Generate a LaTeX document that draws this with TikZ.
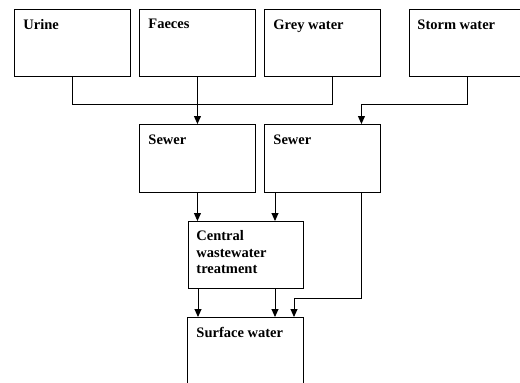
\documentclass[tikz,border=0pt]{standalone}
\usepackage{fontspec}
\setmainfont{Liberation Serif}
\usetikzlibrary{arrows.meta}
\begin{document}
\begin{tikzpicture}[x=1pt, y=-1pt,
                    line width=.9pt,
                    box/.style={draw, rectangle, anchor=north west, inner sep=0pt,
                                minimum width=116pt, minimum height=67pt},
                    boxtitle/.style={anchor=north west, inner sep=0pt, align=left,
                                     font=\fontsize{14.5}{16.5}\selectfont\bfseries},
                    arr/.style={-{Triangle[length=8pt, width=7pt]}}]
          \useasboundingbox (0,0) rectangle (520,383);
          \clip (0,0) rectangle (520,383);
          \node[box] (urine) at (14,9) {};
          \node[box] (faeces) at (139,9) {};
          \node[box] (grey_water) at (264,9) {};
          \node[box] (storm_water) at (409,9) {};
          \node[box, minimum height=68pt] (sewer_a) at (139,124) {};
          \node[box, minimum height=68pt] (sewer_b) at (264,124) {};
          \node[box, minimum width=115pt] (central) at (188,221) {};
          \node[box, minimum height=90pt] (surface_water) at (187,317) {};
          \node[boxtitle] (t_urine) at ([xshift=9pt, yshift=-10pt]urine.north west) {Urine};
          \node[boxtitle] (t_faeces) at ([xshift=9pt, yshift=-10pt]faeces.north west) {Faeces};
          \node[boxtitle] (t_grey) at ([xshift=9pt, yshift=-10pt]grey_water.north west) {Grey water};
          \node[boxtitle] (t_storm) at ([xshift=8pt, yshift=-10pt]storm_water.north west) {Storm water};
          \node[boxtitle] (t_sewer_a) at ([xshift=9pt, yshift=-10pt]sewer_a.north west) {Sewer};
          \node[boxtitle] (t_sewer_b) at ([xshift=9pt, yshift=-10pt]sewer_b.north west) {Sewer};
          \node[boxtitle] (t_central) at ([xshift=8pt, yshift=-9pt]central.north west) {Central\\wastewater\\treatment};
          \node[boxtitle] (t_surface) at ([xshift=9pt, yshift=-10pt]surface_water.north west) {Surface water};
          \draw (urine.south) -- ++(0,28) -| ([xshift=10pt]grey_water.south);
          \draw[arr] (faeces.south) -- (sewer_a.north);
          \draw[arr] (storm_water.south) -- ++(0,28) -| ([xshift=39pt]sewer_b.north);
          \draw[arr] (sewer_a.south) -- (sewer_a.south |- central.north);
          \draw[arr] ([xshift=11pt]sewer_b.south west) -- ([xshift=11pt]sewer_b.south west |- central.north);
          \draw[arr] ([xshift=39pt]sewer_b.south) |- ([xshift=107pt, yshift=19pt]surface_water.north west) -- ([xshift=107pt]surface_water.north west);
          \draw[arr] ([xshift=10pt]central.south west) -- ([xshift=10pt]central.south west |- surface_water.north);
          \draw[arr] ([xshift=87pt]central.south west) -- ([xshift=87pt]central.south west |- surface_water.north);
        \end{tikzpicture}
\end{document}
